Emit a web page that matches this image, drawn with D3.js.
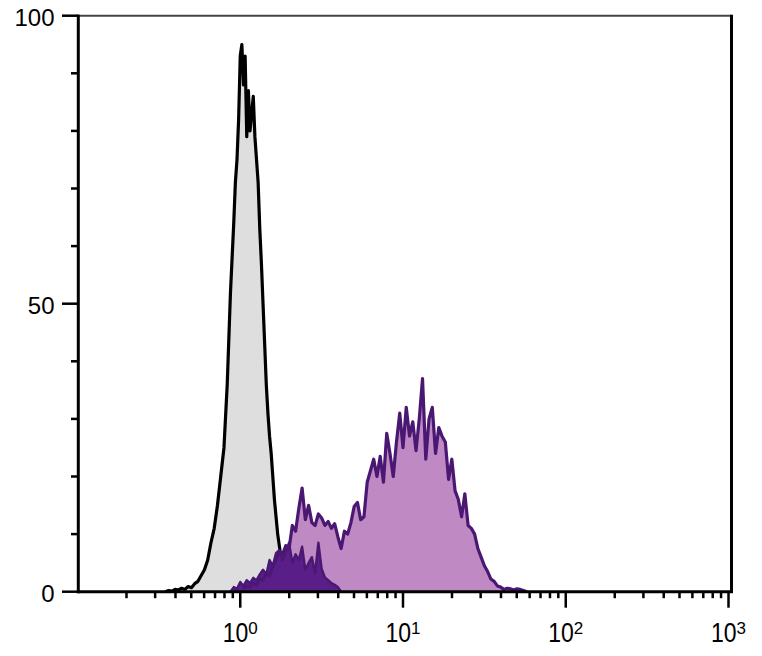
<!DOCTYPE html>
<html><head><meta charset="utf-8">
<script src="https://cdn.jsdelivr.net/npm/d3@7"></script>
<style>html,body{margin:0;padding:0;background:#fff;} svg{display:block;}</style>
</head><body><svg id="chart" width="762" height="656"></svg>
<script>
// ---- data ----
const xDomain = [0.1, 1000];
const yDomain = [0, 100];
const yMajorTicks = [0, 50, 100];
const yMinorTicks = [10, 20, 30, 40, 60, 70, 80, 90];
const xMajorExponents = [0, 1, 2, 3];

// control (grey) histogram: log10 fluorescence, % of max
const greyLog = [-0.46,-0.44,-0.42,-0.40,-0.38,-0.36,-0.34,-0.32,-0.30,-0.28,-0.26,-0.24,-0.22,-0.20,-0.18,-0.16,-0.14,-0.12,-0.10,-0.08,-0.06,
  -0.05,-0.04,-0.03,-0.02,-0.01,0.00,0.01,0.02,0.03,0.04,0.05,0.06,0.07,0.08,0.09,0.10,0.11,0.12,0.13,0.14,0.15,0.16,0.17,0.18,0.19,0.20,
  0.21,0.22,0.23,0.24,0.25,0.26,0.27,0.28,0.30,0.32,0.34];
const greyCount = [0,0.2,0.1,0.4,0.3,0.6,0.4,0.9,0.7,1.4,1.8,2.8,3.8,5.5,8.5,11,15,20,25,36,52,
  58,64,71,75,82,93,95,88,93,79,87,80,83,86,79,75,71,63,57,50,43,36,31,27,24,20,
  16,13,10,8,6,5,4,3,1.5,0.6,0];

// stained (light purple) histogram
const purpleLog = [0.02,0.04,0.06,0.08,0.10,0.12,0.14,0.16,0.18,0.20,
  0.22,0.24,0.26,0.28,0.30,0.32,0.34,0.36,0.38,0.40,
  0.42,0.44,0.46,0.48,0.50,0.52,0.54,0.56,0.58,0.60,
  0.62,0.64,0.66,0.68,0.70,0.72,0.74,0.76,0.78,0.80,
  0.82,0.84,0.86,0.88,0.90,0.92,0.94,0.96,0.98,1.00,
  1.02,1.04,1.06,1.08,1.10,1.12,1.14,1.16,1.18,1.20,
  1.22,1.24,1.26,1.28,1.30,1.32,1.34,1.36,1.38,1.40,
  1.42,1.44,1.46,1.48,1.50,1.52,1.54,1.56,1.58,1.60,
  1.62,1.64,1.66,1.68,1.70,1.72,1.74,1.76];
const purpleCount = [0.5,1,0.8,1.5,1.2,2.2,2,3.2,2.8,4.5,
  5.5,7,6.5,8,7.5,11.5,10.5,14.5,18,12.5,
  15,12,11.5,13.5,12.8,11.5,12.2,11,11.8,9.5,
  7.5,10.5,10,12,14.8,15.5,12.5,13,19,21,
  23,20,23.5,19,27.5,24,20,26,31,25,
  32,27,29.5,24.5,30,37,23,30,32,24,
  28.5,27,26,19.5,23,17.5,16,13,17,11.5,
  11,10,7.5,6,4.5,3.5,2.2,1.8,1,0.8,
  0.4,0.6,0.5,0.3,0.5,0.4,0.2,0];

// low (dark purple) histogram
const darkLog = [-0.06,-0.04,-0.02,0.00,0.02,0.04,0.06,0.08,0.10,0.12,
  0.14,0.16,0.18,0.20,0.22,0.24,0.26,0.28,0.30,0.32,
  0.34,0.36,0.38,0.40,0.42,0.44,0.46,0.48,0.50,0.52,
  0.54,0.56,0.58,0.60,0.62];
const darkCount = [0,0.8,0.5,1.7,1,2,1.5,2.4,2,3,
  3.8,3,5.5,4.5,6.7,7.2,5.5,7,8.5,5,
  6.5,5.5,7.8,3.8,5,6,3.2,8.5,4,2.5,
  2,1.5,1.2,0.8,0];

// ---- drawing ----
const svg = d3.select("#chart");
const x = d3.scaleLog().domain(xDomain).range([77.5, 728.5]);
const y = d3.scaleLinear().domain(yDomain).range([591.7, 15.7]);
const frameRight = 731.5;
const font = "'Liberation Sans', Arial, sans-serif";

function pts(lg, c) { return lg.map((e, i) => ({v: Math.pow(10, e), c: c[i]})); }
const area = d3.area().x(d => x(d.v)).y0(y(0)).y1(d => y(d.c));
const line = d3.line().x(d => x(d.v)).y(d => y(d.c));

const grey = pts(greyLog, greyCount);
const purple = pts(purpleLog, purpleCount);
const dark = pts(darkLog, darkCount);

svg.append("path").datum(grey).attr("d", area).attr("fill", "#dedede");
svg.append("path").datum(grey).attr("d", line).attr("fill", "none").attr("stroke", "#000").attr("stroke-width", 3.2).attr("stroke-linejoin", "round");

svg.append("path").datum(purple).attr("d", area).attr("fill", "#bf8ac3");
svg.append("path").datum(dark).attr("d", area).attr("fill", "#5a1e88");
svg.append("path").datum(purple).attr("d", line).attr("fill", "none").attr("stroke", "#4a1873").attr("stroke-width", 3.2).attr("stroke-linejoin", "round");
svg.append("path").datum(dark).attr("d", line).attr("fill", "none").attr("stroke", "#4a1873").attr("stroke-width", 2.4).attr("stroke-linejoin", "round");

// frame: top and right
svg.append("line").attr("x1", 77).attr("x2", frameRight).attr("y1", y(100)).attr("y2", y(100)).attr("stroke", "#444").attr("stroke-width", 2);
svg.append("line").attr("x1", frameRight).attr("x2", frameRight).attr("y1", y(100) - 1).attr("y2", y(0)).attr("stroke", "#000").attr("stroke-width", 3);

// y axis
const yAxisX = 78.3;
svg.append("line").attr("x1", yAxisX).attr("x2", yAxisX).attr("y1", y(100) - 1).attr("y2", y(0) + 1.5).attr("stroke", "#000").attr("stroke-width", 3);
yMajorTicks.forEach(t => {
  svg.append("line").attr("x1", 62).attr("x2", yAxisX).attr("y1", y(t)).attr("y2", y(t)).attr("stroke", "#000").attr("stroke-width", 2.5);
  svg.append("text").attr("x", 54.5).attr("y", y(t) + 10).attr("text-anchor", "end")
    .attr("font-family", font).attr("font-size", 24).attr("fill", "#000").text(t);
});
yMinorTicks.forEach(t => {
  svg.append("line").attr("x1", 71).attr("x2", yAxisX).attr("y1", y(t)).attr("y2", y(t)).attr("stroke", "#000").attr("stroke-width", 2.5);
});

// x axis
const xAxisY = 591.7;
svg.append("line").attr("x1", 77).attr("x2", frameRight + 1.5).attr("y1", xAxisY).attr("y2", xAxisY).attr("stroke", "#000").attr("stroke-width", 3);
x.ticks().forEach(t => {
  const e = Math.log10(t);
  const major = Math.abs(e - Math.round(e)) < 1e-6;
  if (t <= xDomain[0] * 1.0001) return;
  svg.append("line").attr("x1", x(t)).attr("x2", x(t)).attr("y1", xAxisY).attr("y2", xAxisY + (major ? 16 : 6.5))
    .attr("stroke", "#000").attr("stroke-width", 2.5);
});
xMajorExponents.forEach(e => {
  const cx = x(Math.pow(10, e));
  const g = svg.append("g").attr("transform", `translate(${cx},641.5)`);
  const base = g.append("text").attr("font-family", font).attr("font-size", 23)
    .attr("transform", "scale(1,1.22)").attr("fill", "#000").text("10");
  const w = base.node().getComputedTextLength();
  const sup = g.append("text").attr("font-family", font).attr("font-size", 17)
    .attr("fill", "#000").attr("y", -7.5).text(e);
  const ws = sup.node().getComputedTextLength();
  const left = -(w + ws) / 2;
  base.attr("x", left);
  sup.attr("x", left + w);
});
</script>
</body></html>
